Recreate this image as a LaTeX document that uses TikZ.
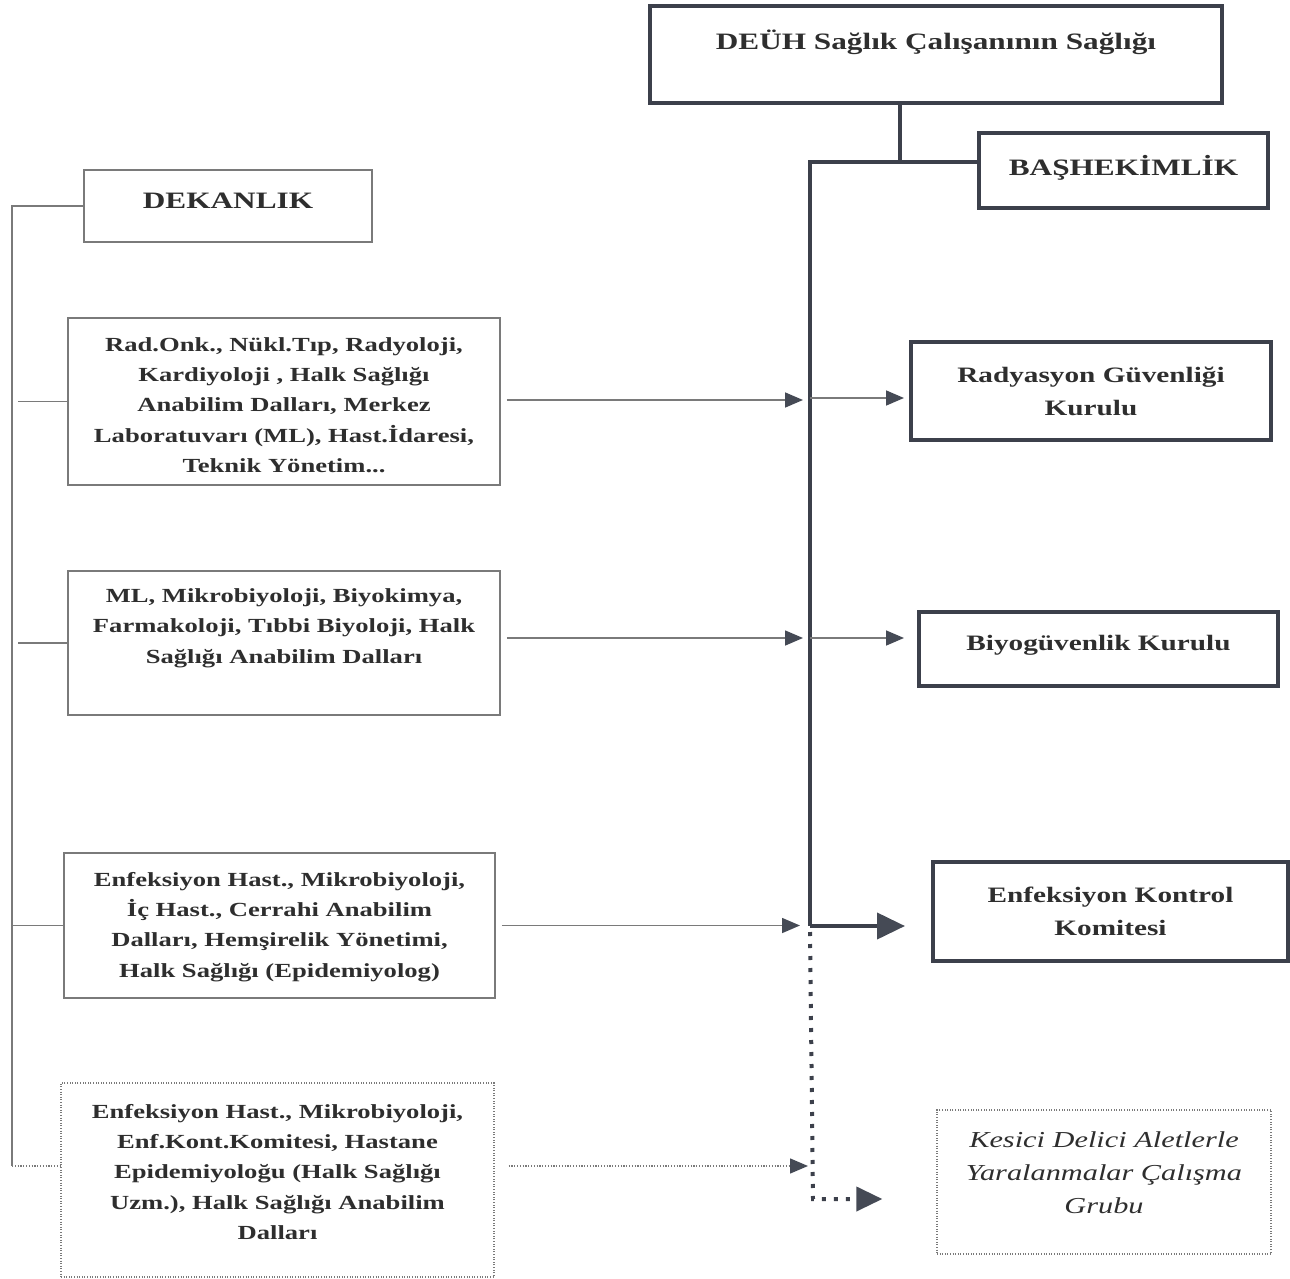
\documentclass[tikz,border=0pt]{standalone}
\usepackage{fontspec}
\setmainfont[FakeStretch=1.33]{Liberation Serif}
\usetikzlibrary{arrows.meta}
\definecolor{thinc}{HTML}{7A7A7A}
\definecolor{thickc}{HTML}{3C404B}
\definecolor{tipc}{HTML}{454A55}
\definecolor{txtc}{HTML}{2E2E2E}
\tikzset{
  thinbox/.style={draw=thinc, line width=1.5pt, minimum width=#1},
  thickbox/.style={draw=thickc, line width=4pt},
  dotbox/.style={draw=thinc, line width=1.3pt, dash pattern=on 1pt off 1.6pt},
  txt/.style={align=center, inner sep=0pt, text=txtc},
  headtxt/.style={txt, font=\fontsize{23.5}{30}\selectfont\bfseries},
  lefttxt/.style={txt, font=\fontsize{20}{30.3}\selectfont\bfseries},
  righttxt/.style={txt, font=\fontsize{22}{33}\selectfont\bfseries},
  thinline/.style={draw=thinc, line width=1.6pt},
  thickline/.style={draw=thickc, line width=4pt, line join=miter},
  thinarrow/.style={draw=thinc, line width=1.6pt, -{Triangle[length=18pt,width=15pt,color=tipc]}},
  thickarrow/.style={draw=thickc, line width=4pt, -{Triangle[length=28pt,width=26pt,color=tipc]}},
  dotarrow/.style={draw=thinc, line width=1.4pt, dash pattern=on 1.2pt off 1.6pt, -{Triangle[length=18pt,width=15pt,color=tipc]}},
  bigdots/.style={draw=thickc, line width=4pt, dash pattern=on 4pt off 8pt, -{Triangle[length=26pt,width=24pt,color=tipc]}},
}
\begin{document}
\begin{tikzpicture}[x=1pt,y=-1pt]
\useasboundingbox (0,0) rectangle (1290,1279);
% boxes
\node[thickbox, minimum width=572pt, minimum height=97pt] (top) at (936,54.5) {};
\node[thickbox, minimum width=289pt, minimum height=75pt] (bas) at (1123.5,170.5) {};
\node[thinbox=288pt, minimum height=72pt] (dek) at (228,206) {};
\node[thinbox=432pt, minimum height=167pt] (b1) at (284,401.5) {};
\node[thinbox=432pt, minimum height=144pt] (b2) at (284,643) {};
\node[thinbox=431pt, minimum height=145pt] (b3) at (279.5,925.5) {};
\node[dotbox, minimum width=433pt, minimum height=194pt] (b4) at (277.5,1180) {};
\node[thickbox, minimum width=360pt, minimum height=98pt] (rad) at (1091,391) {};
\node[thickbox, minimum width=359pt, minimum height=74pt] (biy) at (1098.5,649) {};
\node[thickbox, minimum width=355pt, minimum height=99pt] (enf) at (1110.5,911.5) {};
\node[dotbox, minimum width=334pt, minimum height=144pt] (kes) at (1104,1182) {};
% texts
\node[headtxt] (topt) at (936,42) {DEÜH Sağlık Çalışanının Sağlığı};
\node[headtxt] (bast) at (1123.5,168) {BAŞHEKİMLİK};
\node[headtxt] (dekt) at (228,201) {DEKANLIK};
\node[lefttxt] (b1t) at (284,405) {Rad.Onk., Nükl.Tıp, Radyoloji,\\Kardiyoloji , Halk Sağlığı\\Anabilim Dalları, Merkez\\Laboratuvarı (ML), Hast.İdaresi,\\Teknik Yönetim...};
\node[lefttxt] (b2t) at (284,628) {ML, Mikrobiyoloji, Biyokimya,\\Farmakoloji, Tıbbi Biyoloji, Halk\\Sağlığı Anabilim Dalları};
\node[lefttxt] (b3t) at (279.5,927) {Enfeksiyon Hast., Mikrobiyoloji,\\İç Hast., Cerrahi Anabilim\\Dalları, Hemşirelik Yönetimi,\\Halk Sağlığı (Epidemiyolog)};
\node[lefttxt] (b4t) at (277.5,1172) {Enfeksiyon Hast., Mikrobiyoloji,\\Enf.Kont.Komitesi, Hastane\\Epidemiyoloğu (Halk Sağlığı\\Uzm.), Halk Sağlığı Anabilim\\Dalları};
\node[righttxt] (radt) at (1091,391) {Radyasyon Güvenliği\\Kurulu};
\node[righttxt] (biyt) at (1098.5,645) {Biyogüvenlik Kurulu};
\node[righttxt] (enft) at (1110.5,911) {Enfeksiyon Kontrol\\Komitesi};
\node[txt, font=\fontsize{22.8}{33}\selectfont\itshape] (kest) at (1104,1173) {Kesici Delici Aletlerle\\Yaralanmalar Çalışma\\Grubu};
% coordinates
\coordinate (lbus) at (12,206);
\coordinate (lbot) at (12,1166);
\coordinate (lx) at (18,0);
\coordinate (tj) at (900,162);
\coordinate (busTop) at (810,162);
\coordinate (busMid) at (810,926);
\coordinate (busL) at (803,0);
\coordinate (dotc) at (813,1199);
% left bus
\draw[thinline] (dek.west) -- (lbus) -- (lbot);
\draw[thinline] (b1.west) -- (b1.west -| lx);
\draw[thinline] (b2.west) -- (b2.west -| lx);
\draw[thinline] (b3.west) -- (b3.west -| lbus);
\draw[thinline, dash pattern=on 1.2pt off 1.6pt] (lbot) -- ([yshift=14pt]b4.west);
% left to bus arrows
\draw[thinarrow, shorten <=6pt] ([yshift=1.5pt]b1.east) -- ([yshift=1.5pt]b1.east -| busL);
\draw[thinarrow, shorten <=6pt] ([yshift=5pt]b2.east) -- ([yshift=5pt]b2.east -| busL);
\draw[thinarrow, shorten <=6pt] (b3.east) -- ([xshift=-3pt]b3.east -| busL);
\draw[dotarrow, shorten <=14pt] ([yshift=14pt]b4.east) -- ([yshift=14pt,xshift=5pt]b4.east -| busL);
% right bus
\draw[thickline] (top.south -| tj) -- (tj);
\draw[thickline] (bas.west |- busTop) -- (busTop) -- (busMid);
\draw[thickarrow, shorten >=26pt] (busMid) -- (busMid -| enf.west);
\draw[thinarrow, shorten >=5pt] ([yshift=-7pt]rad.west -| busMid) -- ([yshift=-7pt]rad.west);
\draw[thinarrow, shorten >=13pt] ([yshift=11pt]biy.west -| busMid) -- ([yshift=11pt]biy.west);
\draw[bigdots, shorten >=54pt] ([yshift=-6pt]busMid) -- (dotc) -- (dotc -| kes.west);
\end{tikzpicture}
\end{document}
